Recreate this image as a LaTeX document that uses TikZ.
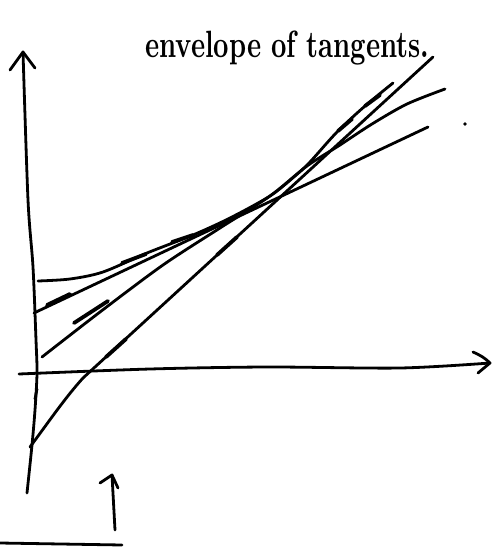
\documentclass[tikz,border=0pt]{standalone}
\usepackage{graphicx}
\begin{document}
\begin{tikzpicture}[x=1pt,y=-1pt,
  ink/.style={line width=2.8pt,line cap=round,line join=round},
  over/.style={line width=3.8pt,line cap=round}]
\useasboundingbox (0,0) rectangle (494,552);
% title
\node[anchor=base west,inner sep=0pt] (title) at (145,57)
  {\scalebox{2.68}[3.8]{\bfseries envelope of tangents.}};
% y axis
\draw[ink] plot[smooth] coordinates {(23,52) (28,200) (33,267) (36,340) (37,373) (35,410) (32,445) (27,493)};
\draw[ink] (10,70) -- (23,52) -- (35,68);
\draw[ink] (37,389) -- (35,399);
% x axis
\draw[ink] plot[smooth] coordinates {(19,374) (150,369) (267,367) (400,368) (490,363)};
\draw[ink] (473,352) .. controls (480,355) and (485,358) .. (490,363) -- (478,373);
% envelope curve
\draw[ink] plot[smooth] coordinates {(38,281) (70,279) (103,272) (147,253) (193,235) (230,218) (270,196) (295,176) (310,162) (337,132) (365,106) (393,83)};
% tangent L1
\draw[ink] (34,313) -- (428,127);
% tangent L2 (curved)
\draw[ink] plot[smooth] coordinates {(42,357) (100,312) (163,265) (220,228) (270,196) (307,166) (340,145) (372,124) (407,104) (445,89)};
% steep tangent with bent tail
\draw[ink] (30,447) .. controls (50,420) and (65,398) .. (83,378) -- (433,57);
% overdrawn strokes
\draw[over] (47,305) -- (70,294);
\draw[over] (74,323) -- (108,301);
\draw[over] (106,357) -- (126,339);
\draw[over] (217,255) -- (237,237);
\draw[over] (122,263) -- (146,254);
\draw[over] (172,242) -- (193,235);
\draw[over] (338,131) -- (352,119);
\draw[over] (365,106) -- (380,95);
% dot
\fill (465,124) circle (1.8);
% lower arrow and baseline
\draw[ink] (115,530) -- (112,475);
\draw[ink] (100,483) -- (112,475) -- (118,488);
\draw[ink] (0,543) -- (122,545);
\end{tikzpicture}
\end{document}
